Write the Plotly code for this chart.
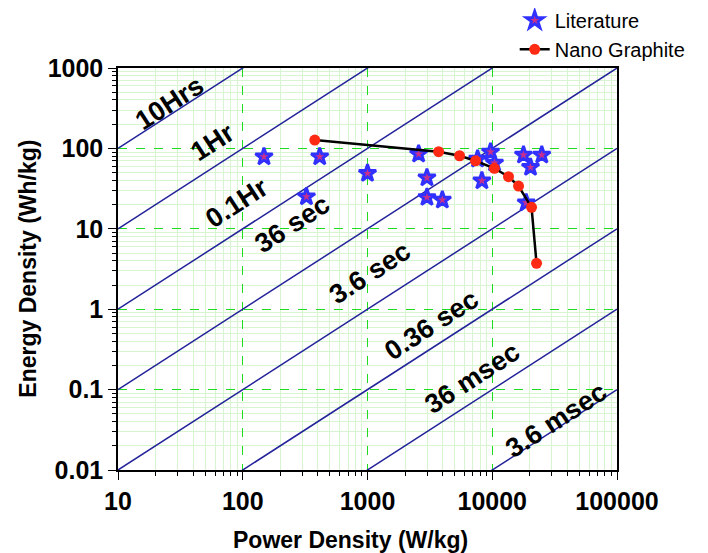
import plotly.graph_objects as go
import math

# ---- data ----
lit_power = [148, 324, 414, 1000, 2570, 2995, 2995, 3980, 8260, 7630, 9690, 10430, 17800, 24950, 20270, 18720]
lit_energy = [78.8, 25.1, 78.8, 49, 85.2, 43.2, 24.6, 22.8, 39.6, 73.8, 90.2, 65.8, 82.8, 82.8, 58.2, 21.1]

ng_power = [378, 3716, 5470, 7350, 10400, 13500, 16250, 20650, 22650]
ng_energy = [127, 91, 81, 70, 56.6, 44.5, 34, 18.5, 3.72]

# discharge-time lines (hours): E = t * P
line_hours = [10, 1, 0.1, 0.01, 0.001, 0.0001, 0.00001, 0.000001]
line_labels = ["10Hrs", "1Hr", "0.1Hr", "36 sec", "3.6 sec", "0.36 sec", "36 msec", "3.6 msec"]
label_power = [26, 57.7, 89.7, 250, 1042, 3266, 6950, 32700]
label_energy = [367, 120, 20.9, 11.5, 2.82, 0.635, 0.139, 0.0419]

x_tick_labels = ["10", "100", "1000", "10000", "100000"]
y_tick_labels = ["0.01", "0.1", "1", "10", "100", "1000"]

FONT = "Arial, Liberation Sans, sans-serif"
NAVY = "#23239a"

fig = go.Figure()

p_span = [float(x_tick_labels[0]), float(x_tick_labels[-1])]
for t in line_hours:
    fig.add_trace(go.Scatter(
        x=p_span, y=[t * p for p in p_span], mode="lines",
        line=dict(color=NAVY, width=1.5), showlegend=False, hoverinfo="skip"))

fig.add_trace(go.Scatter(
    x=lit_power, y=lit_energy, mode="markers", name="Literature",
    marker=dict(symbol="star", size=13, color="#c8308c",
                line=dict(color="#3030ff", width=2.8))))

fig.add_trace(go.Scatter(
    x=ng_power, y=ng_energy, mode="lines+markers", name="Nano Graphite",
    line=dict(color="black", width=2.5),
    marker=dict(symbol="circle", size=11, color="#ff2a14")))

for txt, px, py in zip(line_labels, label_power, label_energy):
    fig.add_annotation(x=math.log10(px), y=math.log10(py), xref="x", yref="y",
                       text=txt, showarrow=False, textangle=-33,
                       font=dict(family=FONT, size=27, color="black", weight="bold"))

# axis titles
title_font = dict(family=FONT, size=23, color="black", weight="bold")
fig.add_annotation(x=0.465, y=-0.174, xref="paper", yref="paper", xanchor="center",
                   yanchor="middle", text="Power Density (W/kg)", showarrow=False,
                   font=title_font)
fig.add_annotation(x=-0.181, y=0.5, xref="paper", yref="paper", xanchor="center",
                   yanchor="middle", text="Energy Density (Wh/kg)", showarrow=False,
                   textangle=-90, font=title_font)

def minor_vals(lo, hi):
    vals = []
    for k in range(lo, hi):
        for m in range(2, 10):
            vals.append(m * 10 ** k)
    return vals

axis_common = dict(
    type="log", showline=True, linecolor="black", linewidth=1.5, mirror=True,
    ticks="outside", ticklen=8, tickwidth=1.2, tickcolor="black",
    showgrid=True, gridcolor="#1fdc1f", gridwidth=1, griddash="dash",
    zeroline=False, automargin=False,
    tickfont=dict(family=FONT, size=25, color="black", weight="bold"),
)

fig.update_xaxes(
    **axis_common, range=[1, 5],
    tickmode="array", tickvals=[float(v) for v in x_tick_labels], ticktext=x_tick_labels,
    minor=dict(tickmode="array", tickvals=minor_vals(1, 5), ticks="outside", ticklen=4,
               tickcolor="black", showgrid=True, gridcolor="#d6f5d0", gridwidth=1,
               griddash="solid"),
)
fig.update_yaxes(
    **axis_common, range=[-2, 3],
    tickmode="array", tickvals=[float(v) for v in y_tick_labels], ticktext=y_tick_labels,
    minor=dict(tickmode="array", tickvals=minor_vals(-2, 3), ticks="outside", ticklen=4,
               tickcolor="black", showgrid=True, gridcolor="#d6f5d0", gridwidth=1,
               griddash="solid"),
)

# page body adds an 8px margin, so the figure is 8px smaller and the margins shifted
fig.update_layout(
    width=700, height=545,
    margin=dict(l=110, r=91, t=60, b=83, autoexpand=False),
    paper_bgcolor="white", plot_bgcolor="white",
    font=dict(family=FONT, color="black"),
    legend=dict(x=0.795, y=1.167, xanchor="left", yanchor="top",
                bgcolor="rgba(0,0,0,0)", font=dict(family=FONT, size=20, color="black"),
                tracegroupgap=0),
)

fig.write_html("out.html")
